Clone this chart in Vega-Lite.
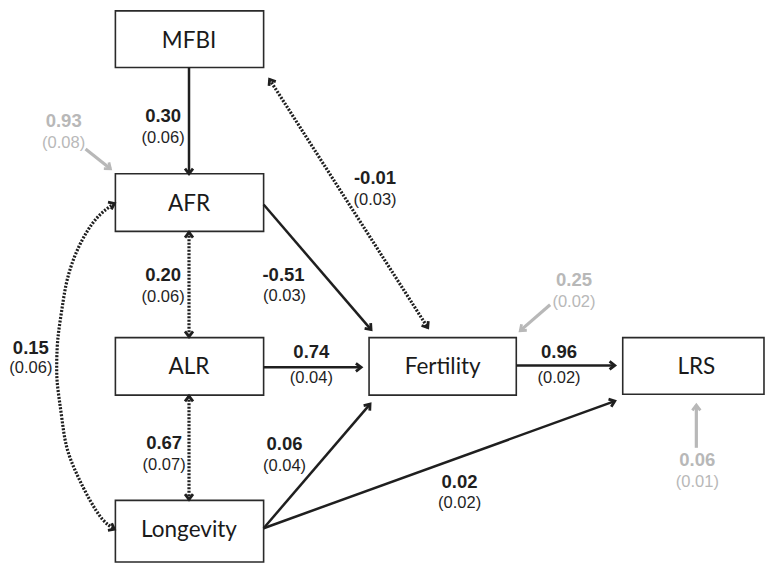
{
  "$schema": "https://vega.github.io/schema/vega-lite/v6.json",
  "width": 765,
  "height": 563,
  "autosize": {"type": "fit", "contains": "padding"},
  "padding": 0,
  "background": "white",
  "config": {"view": {"stroke": null}},
  "datasets": {
    "boxes": [
      {"name": "MFBI", "x1": 116, "x2": 265, "y1": 11, "y2": 68, "cx": 190, "cy": 41},
      {"name": "AFR", "x1": 116, "x2": 265, "y1": 175, "y2": 233, "cx": 190, "cy": 205},
      {"name": "ALR", "x1": 116, "x2": 265, "y1": 340, "y2": 398, "cx": 190, "cy": 370},
      {"name": "Longevity", "x1": 116, "x2": 265, "y1": 504, "y2": 566, "cx": 190, "cy": 534},
      {"name": "Fertility", "x1": 371, "x2": 519, "y1": 340, "y2": 398, "cx": 445, "cy": 370},
      {"name": "LRS", "x1": 626, "x2": 768, "y1": 340, "y2": 397, "cx": 700, "cy": 370}
    ],
    "edges": [
      {"id": "MFBI-AFR", "x1": 190, "y1": 68, "x2": 190, "y2": 175, "style": "solid"},
      {"id": "AFR-Fert", "x1": 265, "y1": 206, "x2": 373, "y2": 332, "style": "solid"},
      {"id": "ALR-Fert", "x1": 265, "y1": 370, "x2": 363, "y2": 370, "style": "solid"},
      {"id": "Fert-LRS", "x1": 519, "y1": 368, "x2": 618, "y2": 368, "style": "solid"},
      {"id": "Long-Fert", "x1": 265, "y1": 532, "x2": 372, "y2": 407, "style": "solid"},
      {"id": "Long-LRS", "x1": 265, "y1": 532, "x2": 618, "y2": 404, "style": "solid"},
      {"id": "MFBI-Fert", "x1": 271, "y1": 80, "x2": 430, "y2": 330, "style": "dotted"},
      {"id": "AFR-ALR", "x1": 190, "y1": 234, "x2": 190, "y2": 339, "style": "dotted"},
      {"id": "ALR-Long", "x1": 190, "y1": 399, "x2": 190, "y2": 503, "style": "dotted"},
      {"id": "e-AFR", "x1": 86, "y1": 150, "x2": 111, "y2": 170, "style": "gray"},
      {"id": "e-Fert", "x1": 553, "y1": 307, "x2": 523, "y2": 333, "style": "gray"},
      {"id": "e-LRS", "x1": 700, "y1": 451, "x2": 700, "y2": 408, "style": "gray"}
    ],
    "heads": [
      {"x": 190, "y": 175, "angle": 90, "style": "path"},
      {"x": 373, "y": 332, "angle": 49, "style": "path"},
      {"x": 363, "y": 370, "angle": 0, "style": "path"},
      {"x": 618, "y": 368, "angle": 0, "style": "path"},
      {"x": 372, "y": 407, "angle": 310, "style": "path"},
      {"x": 618, "y": 404, "angle": 340, "style": "path"},
      {"x": 271, "y": 80, "angle": 237, "style": "path"},
      {"x": 430, "y": 330, "angle": 57, "style": "path"},
      {"x": 190, "y": 234, "angle": 270, "style": "path"},
      {"x": 190, "y": 339, "angle": 90, "style": "path"},
      {"x": 190, "y": 399, "angle": 270, "style": "path"},
      {"x": 190, "y": 503, "angle": 90, "style": "path"},
      {"x": 115, "y": 205, "angle": 335, "style": "path"},
      {"x": 115, "y": 533, "angle": 28, "style": "path"},
      {"x": 111, "y": 170, "angle": 39, "style": "residual"},
      {"x": 523, "y": 333, "angle": 139, "style": "residual"},
      {"x": 700, "y": 408, "angle": 270, "style": "residual"}
    ],
    "curve": [
      {"o": 0, "x": 115, "y": 205},
      {"o": 1, "x": 97, "y": 220},
      {"o": 2, "x": 80, "y": 247},
      {"o": 3, "x": 68, "y": 280},
      {"o": 4, "x": 62, "y": 313},
      {"o": 5, "x": 58, "y": 343},
      {"o": 6, "x": 57, "y": 370},
      {"o": 7, "x": 58, "y": 390},
      {"o": 8, "x": 62, "y": 420},
      {"o": 9, "x": 67, "y": 450},
      {"o": 10, "x": 77, "y": 477},
      {"o": 11, "x": 90, "y": 503},
      {"o": 12, "x": 103, "y": 523},
      {"o": 13, "x": 115, "y": 533}
    ],
    "labels": [
      {"x": 164, "y": 117, "text": "0.30", "kind": "coef", "group": "path"},
      {"x": 164, "y": 139, "text": "(0.06)", "kind": "se", "group": "path"},
      {"x": 64, "y": 122, "text": "0.93", "kind": "coef", "group": "residual"},
      {"x": 64, "y": 144, "text": "(0.08)", "kind": "se", "group": "residual"},
      {"x": 377, "y": 179, "text": "-0.01", "kind": "coef", "group": "path"},
      {"x": 377, "y": 201, "text": "(0.03)", "kind": "se", "group": "path"},
      {"x": 164, "y": 277, "text": "0.20", "kind": "coef", "group": "path"},
      {"x": 164, "y": 299, "text": "(0.06)", "kind": "se", "group": "path"},
      {"x": 285, "y": 277, "text": "-0.51", "kind": "coef", "group": "path"},
      {"x": 286, "y": 298, "text": "(0.03)", "kind": "se", "group": "path"},
      {"x": 31, "y": 350, "text": "0.15", "kind": "coef", "group": "path"},
      {"x": 31, "y": 371, "text": "(0.06)", "kind": "se", "group": "path"},
      {"x": 313, "y": 355, "text": "0.74", "kind": "coef", "group": "path"},
      {"x": 313, "y": 381, "text": "(0.04)", "kind": "se", "group": "path"},
      {"x": 562, "y": 355, "text": "0.96", "kind": "coef", "group": "path"},
      {"x": 562, "y": 381, "text": "(0.02)", "kind": "se", "group": "path"},
      {"x": 577, "y": 282, "text": "0.25", "kind": "coef", "group": "residual"},
      {"x": 577, "y": 304, "text": "(0.02)", "kind": "se", "group": "residual"},
      {"x": 165, "y": 446, "text": "0.67", "kind": "coef", "group": "path"},
      {"x": 165, "y": 468, "text": "(0.07)", "kind": "se", "group": "path"},
      {"x": 286, "y": 447, "text": "0.06", "kind": "coef", "group": "path"},
      {"x": 286, "y": 469, "text": "(0.04)", "kind": "se", "group": "path"},
      {"x": 462, "y": 485, "text": "0.02", "kind": "coef", "group": "path"},
      {"x": 462, "y": 507, "text": "(0.02)", "kind": "se", "group": "path"},
      {"x": 701, "y": 463, "text": "0.06", "kind": "coef", "group": "residual"},
      {"x": 701, "y": 485, "text": "(0.01)", "kind": "se", "group": "residual"}
    ]
  },
  "layer": [
    {
      "data": {"name": "boxes"},
      "mark": {"type": "rect", "fill": "#9a9a9a", "opacity": 0.6, "xOffset": 2, "yOffset": 2},
      "encoding": {
        "x": {"field": "x1", "type": "quantitative", "scale": {"domain": [0, 765], "nice": false, "zero": false}, "axis": null},
        "x2": {"field": "x2"},
        "y": {"field": "y1", "type": "quantitative", "scale": {"domain": [0, 563], "nice": false, "zero": false, "reverse": true}, "axis": null},
        "y2": {"field": "y2"}
      }
    },
    {
      "data": {"name": "boxes"},
      "mark": {"type": "rect", "fill": "white", "stroke": "#2a2a2a", "strokeWidth": 1.6},
      "encoding": {
        "x": {"field": "x1", "type": "quantitative"},
        "x2": {"field": "x2"},
        "y": {"field": "y1", "type": "quantitative"},
        "y2": {"field": "y2"}
      }
    },
    {
      "data": {"name": "boxes"},
      "mark": {"type": "text", "font": "Lato", "fontSize": 22.5, "color": "#1a1a1a", "baseline": "middle", "align": "center"},
      "encoding": {
        "x": {"field": "cx", "type": "quantitative"},
        "y": {"field": "cy", "type": "quantitative"},
        "text": {"field": "name"}
      }
    },
    {
      "data": {"name": "edges"},
      "transform": [{"filter": "datum.style === 'solid'"}],
      "mark": {"type": "rule", "color": "#1f1f1f", "strokeWidth": 2.5},
      "encoding": {
        "x": {"field": "x1", "type": "quantitative"},
        "y": {"field": "y1", "type": "quantitative"},
        "x2": {"field": "x2"},
        "y2": {"field": "y2"}
      }
    },
    {
      "data": {"name": "edges"},
      "transform": [{"filter": "datum.style === 'dotted'"}],
      "mark": {"type": "rule", "color": "#1f1f1f", "strokeWidth": 3.2, "strokeDash": [2, 1.5]},
      "encoding": {
        "x": {"field": "x1", "type": "quantitative"},
        "y": {"field": "y1", "type": "quantitative"},
        "x2": {"field": "x2"},
        "y2": {"field": "y2"}
      }
    },
    {
      "data": {"name": "edges"},
      "transform": [{"filter": "datum.style === 'gray'"}],
      "mark": {"type": "rule", "color": "#b8b8b8", "strokeWidth": 3.2},
      "encoding": {
        "x": {"field": "x1", "type": "quantitative"},
        "y": {"field": "y1", "type": "quantitative"},
        "x2": {"field": "x2"},
        "y2": {"field": "y2"}
      }
    },
    {
      "data": {"name": "curve"},
      "mark": {"type": "line", "color": "#1f1f1f", "strokeWidth": 3.2, "strokeDash": [2, 1.5], "interpolate": "natural"},
      "encoding": {
        "x": {"field": "x", "type": "quantitative"},
        "y": {"field": "y", "type": "quantitative"},
        "order": {"field": "o", "type": "quantitative"}
      }
    },
    {
      "data": {"name": "heads"},
      "mark": {"type": "point", "shape": "M-1.3,-1L0,0L-1.3,1", "filled": false, "strokeWidth": 2.8, "size": 64, "opacity": 1, "strokeJoin": "miter"},
      "encoding": {
        "x": {"field": "x", "type": "quantitative"},
        "y": {"field": "y", "type": "quantitative"},
        "angle": {"field": "angle", "type": "quantitative", "scale": null},
        "color": {"field": "style", "type": "nominal", "scale": {"domain": ["path", "residual"], "range": ["#1f1f1f", "#b8b8b8"]}, "legend": null}
      }
    },
    {
      "data": {"name": "labels"},
      "transform": [{"filter": "datum.kind === 'coef'"}],
      "mark": {"type": "text", "font": "Liberation Sans", "fontSize": 18.5, "fontWeight": "bold", "baseline": "middle", "align": "center"},
      "encoding": {
        "x": {"field": "x", "type": "quantitative"},
        "y": {"field": "y", "type": "quantitative"},
        "text": {"field": "text"},
        "color": {"field": "group", "type": "nominal", "scale": {"domain": ["path", "residual"], "range": ["#1f1f1f", "#b8b8b8"]}, "legend": null}
      }
    },
    {
      "data": {"name": "labels"},
      "transform": [{"filter": "datum.kind === 'se'"}],
      "mark": {"type": "text", "font": "Liberation Sans", "fontSize": 16.5, "baseline": "middle", "align": "center"},
      "encoding": {
        "x": {"field": "x", "type": "quantitative"},
        "y": {"field": "y", "type": "quantitative"},
        "text": {"field": "text"},
        "color": {"field": "group", "type": "nominal", "scale": {"domain": ["path", "residual"], "range": ["#1f1f1f", "#b8b8b8"]}, "legend": null}
      }
    }
  ]
}
